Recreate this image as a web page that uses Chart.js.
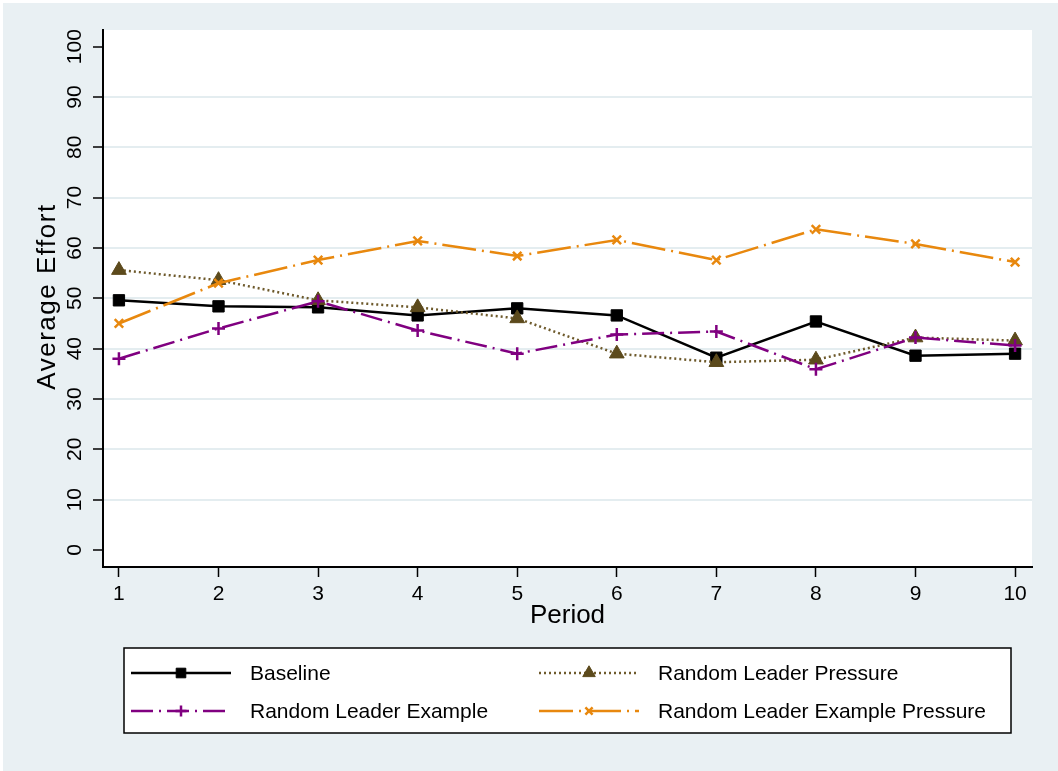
<!DOCTYPE html>
<html>
<head>
<meta charset="utf-8">
<script src="https://cdn.jsdelivr.net/npm/chart.js@4.4.1/dist/chart.umd.min.js"></script>
<style>
    html, body { margin: 0; padding: 0; background: #fff; }
    #wrap { width: 1058px; height: 771px; }
</style>
</head>
<body>
<div id="wrap"><canvas id="grafico" width="1058" height="771"></canvas></div>
<script>
// Dados
const periodos = [1, 2, 3, 4, 5, 6, 7, 8, 9, 10];
const yTicks = [0, 10, 20, 30, 40, 50, 60, 70, 80, 90, 100];

const baseline = [49.6, 48.4, 48.2, 46.6, 48.0, 46.6, 38.2, 45.4, 38.6, 39.0];
const leaderPressure = [55.6, 53.6, 49.6, 48.2, 46.0, 39.0, 37.3, 37.8, 42.2, 41.6];
const leaderExample = [38.0, 44.0, 49.4, 43.6, 39.0, 42.8, 43.4, 35.9, 42.2, 40.6];
const leaderExamplePressure = [45.0, 53.0, 57.6, 61.4, 58.4, 61.6, 57.6, 63.7, 60.8, 57.2];

const nomes = ['Baseline', 'Random Leader Pressure', 'Random Leader Example', 'Random Leader Example Pressure'];

// Cores
const FONTE = '"Liberation Sans", Arial, Helvetica, sans-serif';
const COR_FUNDO = '#e9f0f3';
const COR_GRADE = '#e4edf0';

function pontos(valores) {
    return periodos.map((p, i) => ({ x: p, y: valores[i] }));
}

// Fundo + area branca do grafico
const fundoPlugin = {
    id: 'fundo',
    beforeDraw(chart) {
        const { ctx, chartArea } = chart;
        ctx.save();
        ctx.fillStyle = '#fff';
        ctx.fillRect(0, 0, chart.width, chart.height);
        ctx.fillStyle = COR_FUNDO;
        ctx.fillRect(3, 3, chart.width - 3, chart.height - 3);
        ctx.fillStyle = '#fff';
        ctx.fillRect(chartArea.left, chartArea.top, chartArea.right - chartArea.left, chartArea.bottom - chartArea.top);
        ctx.restore();
    }
};

// Titulo do eixo Y e legenda no estilo Stata
const extrasPlugin = {
    id: 'extras',
    afterDraw(chart) {
        const { ctx, chartArea } = chart;
        ctx.save();
        // titulo Y
        ctx.translate(48, (chartArea.top + chartArea.bottom) / 2 - 2);
        ctx.rotate(-Math.PI / 2);
        ctx.font = '26px ' + FONTE;
        ctx.letterSpacing = '1.5px';
        ctx.fillStyle = '#000';
        ctx.textAlign = 'center';
        ctx.textBaseline = 'middle';
        ctx.fillText('Average Effort', 0, 0);
        ctx.restore();

        // legenda
        ctx.save();
        ctx.fillStyle = '#fff';
        ctx.fillRect(124, 648, 887, 85);
        ctx.strokeStyle = '#000';
        ctx.lineWidth = 1.5;
        ctx.strokeRect(124, 648, 887, 85);
        const pos = [[131, 673], [539, 673], [131, 711], [539, 711]];
        chart.data.datasets.forEach((ds, i) => {
            const [x0, y] = pos[i];
            ctx.save();
            ctx.strokeStyle = ds.borderColor;
            ctx.lineWidth = ds.borderWidth;
            ctx.setLineDash(ds.borderDash || []);
            ctx.beginPath();
            ctx.moveTo(x0, y);
            ctx.lineTo(x0 + 100, y);
            ctx.stroke();
            ctx.setLineDash([]);
            ctx.fillStyle = ds.pointBackgroundColor;
            ctx.strokeStyle = ds.pointBorderColor;
            ctx.lineWidth = ds.pointBorderWidth;
            Chart.helpers.drawPoint(ctx, {
                pointStyle: ds.pointStyle,
                radius: ds.pointRadius * 0.85,
                rotation: 0,
                borderWidth: ds.pointBorderWidth
            }, x0 + 50, y);
            ctx.restore();
            ctx.fillStyle = '#000';
            ctx.font = '21px ' + FONTE;
            ctx.textBaseline = 'middle';
            ctx.textAlign = 'left';
            ctx.fillText(ds.label, x0 + 119, y + 1);
        });
        ctx.restore();
    }
};

const ctxGrafico = document.getElementById('grafico').getContext('2d');
const grafico = new Chart(ctxGrafico, {
    type: 'line',
    data: {
        datasets: [{
            label: nomes[0],
            data: pontos(baseline),
            borderColor: '#000',
            borderWidth: 2.5,
            pointStyle: 'rect',
            pointRadius: 8,
            pointBackgroundColor: '#000',
            pointBorderColor: '#000',
            pointBorderWidth: 1,
            order: 4
        }, {
            label: nomes[1],
            data: pontos(leaderPressure),
            borderColor: '#6e5a2c',
            borderWidth: 2.5,
            borderDash: [2, 3],
            pointStyle: 'triangle',
            pointRadius: 8.5,
            pointBackgroundColor: '#5c4a1c',
            pointBorderColor: '#5c4a1c',
            pointBorderWidth: 1,
            order: 3
        }, {
            label: nomes[2],
            data: pontos(leaderExample),
            borderColor: '#800080',
            borderWidth: 2.5,
            borderDash: [22, 6, 2, 6],
            pointStyle: 'cross',
            pointRadius: 6.5,
            pointBackgroundColor: '#800080',
            pointBorderColor: '#800080',
            pointBorderWidth: 2.5,
            order: 2
        }, {
            label: nomes[3],
            data: pontos(leaderExamplePressure),
            borderColor: '#e8880e',
            borderWidth: 2.5,
            borderDash: [34, 6, 2, 6],
            pointStyle: 'crossRot',
            pointRadius: 6,
            pointBackgroundColor: '#e8880e',
            pointBorderColor: '#e8880e',
            pointBorderWidth: 2.5,
            order: 1
        }]
    },
    options: {
        responsive: false,
        animation: false,
        devicePixelRatio: 1,
        layout: {
            padding: { left: 0, top: 30, right: 26, bottom: 140 }
        },
        plugins: {
            legend: { display: false },
            tooltip: { enabled: false }
        },
        elements: {
            line: { tension: 0, fill: false }
        },
        scales: {
            x: {
                type: 'linear',
                min: 0.84,
                max: 10.17,
                afterBuildTicks: (scale) => {
                    scale.ticks = periodos.map(v => ({ value: v }));
                },
                afterFit: (scale) => { scale.height = 64; },
                grid: {
                    drawOnChartArea: false,
                    tickLength: 10,
                    tickColor: '#000',
                    tickWidth: 1.5
                },
                border: { color: '#000', width: 2 },
                ticks: {
                    color: '#000',
                    font: { family: FONTE, size: 21 },
                    padding: 5,
                    maxRotation: 0
                },
                title: {
                    display: true,
                    text: 'Period',
                    color: '#000',
                    font: { family: FONTE, size: 26 },
                    padding: 0
                }
            },
            y: {
                min: -3.38,
                max: 103.3,
                afterBuildTicks: (scale) => {
                    scale.ticks = yTicks.map(v => ({ value: v }));
                },
                afterFit: (scale) => { scale.width = 103; },
                grid: {
                    color: (c) => (c.tick && (c.tick.value === 0 || c.tick.value === 100)) ? 'rgba(0,0,0,0)' : COR_GRADE,
                    lineWidth: 2,
                    tickLength: 10,
                    tickColor: '#000',
                    tickWidth: 1.5
                },
                border: { color: '#000', width: 2 },
                ticks: {
                    color: '#000',
                    font: { family: FONTE, size: 21 },
                    minRotation: 90,
                    maxRotation: 90,
                    crossAlign: 'center',
                    padding: 0
                }
            }
        }
    },
    plugins: [fundoPlugin, extrasPlugin]
});
</script>
</body>
</html>
